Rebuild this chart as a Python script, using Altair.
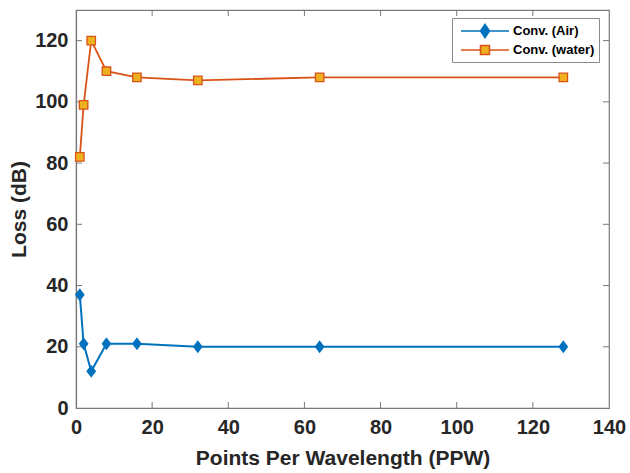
import altair as alt
import pandas as pd

# Points per wavelength sampled
ppw = [1, 2, 4, 8, 16, 32, 64, 128]
# Loss (dB) for each medium
loss_air = [37, 21, 12, 21, 21, 20, 20, 20]
loss_water = [82, 99, 120, 110, 108, 107, 108, 108]

series_names = ["Conv. (Air)", "Conv. (water)"]
x_ticks = [0, 20, 40, 60, 80, 100, 120, 140]
y_ticks = [0, 20, 40, 60, 80, 100, 120]

BLUE = "#0072BD"
ORANGE = "#D95319"
YELLOW = "#EDB120"
GRID = "#7a7a7a"
FONT = "Liberation Sans"

W, H = 533, 398

air = pd.DataFrame({"ppw": ppw, "loss": loss_air, "series": series_names[0]})
water = pd.DataFrame({"ppw": ppw, "loss": loss_water, "series": series_names[1]})
both = pd.concat([air, water], ignore_index=True)

xscale = alt.Scale(domain=[0, 140], nice=False, padding=0, zero=False)
yscale = alt.Scale(domain=[0, 130], nice=False, padding=0)

x_enc = alt.X(
    "ppw:Q", scale=xscale,
    axis=alt.Axis(values=x_ticks, title="Points Per Wavelength (PPW)", grid=False,
                  ticks=False, labelFlush=False, labelPadding=9, titlePadding=10),
)
y_enc = alt.Y(
    "loss:Q", scale=yscale,
    axis=alt.Axis(values=y_ticks, title="Loss (dB)", grid=False,
                  ticks=False, labelFlush=False, labelPadding=8, titlePadding=5),
)

diamond = "M0,-1L0.75,0L0,1L-0.75,0Z"

air_line = alt.Chart(air).mark_line(color=BLUE, strokeWidth=2).encode(x=x_enc, y=y_enc)
air_pts = alt.Chart(air).mark_point(
    shape=diamond, filled=True, size=170, color=BLUE, opacity=1
).encode(x="ppw:Q", y="loss:Q")

water_line = alt.Chart(water).mark_line(color=ORANGE, strokeWidth=1.8).encode(x="ppw:Q", y="loss:Q")
water_pts = alt.Chart(water).mark_point(
    shape="square", filled=True, size=72, fill=YELLOW, stroke=ORANGE,
    strokeWidth=1.3, opacity=1
).encode(x="ppw:Q", y="loss:Q")

# Legend glyphs: line segment with the series marker in the middle
legend_paths = [
    "M-3,0L3,0M0,-0.81L0.56,0L0,0.81L-0.56,0Z",
    "M-3,0L-0.56,0M0.56,0L3,0M-0.56,-0.56L0.56,-0.56L0.56,0.56L-0.56,0.56Z",
]
legend_layer = alt.Chart(both).transform_filter("false").mark_point(
    filled=True, strokeWidth=1.6, opacity=1
).encode(
    x="ppw:Q", y="loss:Q",
    shape=alt.Shape("series:N", scale=alt.Scale(domain=series_names, range=legend_paths),
                    legend=alt.Legend(title=None)),
    fill=alt.Fill("series:N", scale=alt.Scale(domain=series_names, range=[BLUE, YELLOW]),
                  legend=alt.Legend(title=None)),
    stroke=alt.Stroke("series:N", scale=alt.Scale(domain=series_names, range=[BLUE, ORANGE]),
                      legend=alt.Legend(title=None)),
)

# Inward tick marks on all four sides of the box
xt = pd.DataFrame({"ppw": x_ticks[1:-1]})
yt = pd.DataFrame({"loss": y_ticks[1:]})
tick_style = dict(color=GRID, strokeWidth=1)
xt_bottom = alt.Chart(xt).mark_rule(**tick_style).encode(x="ppw:Q", y=alt.value(H), y2=alt.value(H - 6))
xt_top = alt.Chart(xt).mark_rule(**tick_style).encode(x="ppw:Q", y=alt.value(0), y2=alt.value(6))
yt_left = alt.Chart(yt).mark_rule(**tick_style).encode(y="loss:Q", x=alt.value(0), x2=alt.value(6))
yt_right = alt.Chart(yt).mark_rule(**tick_style).encode(y="loss:Q", x=alt.value(W), x2=alt.value(W - 6))

chart = alt.layer(
    air_line, water_line, xt_bottom, xt_top, yt_left, yt_right,
    air_pts, water_pts, legend_layer,
).properties(
    width=W, height=H,
    autosize=alt.AutoSizeParams(type="none"),
    padding={"left": 76, "top": 10, "right": 21, "bottom": 65},
).configure_view(
    stroke=GRID, strokeWidth=1.2,
).configure_axis(
    domainColor=GRID, domainWidth=1.2,
    labelFont=FONT, labelFontSize=20, labelFontWeight="bold", labelColor="#262626",
    titleFont=FONT, titleFontSize=21, titleFontWeight="bold", titleColor="#262626",
).configure_legend(
    orient="none", legendX=376, legendY=8,
    strokeColor="#8a8a8a", fillColor="white", padding=4, rowPadding=0,
    symbolSize=256, symbolOffset=20, labelOffset=19, symbolStrokeWidth=1.6,
    labelFont=FONT, labelFontSize=13, labelFontWeight="bold", labelColor="black",
    labelLimit=300,
)

chart.save("out.html", embed_options={"renderer": "svg", "actions": False})
